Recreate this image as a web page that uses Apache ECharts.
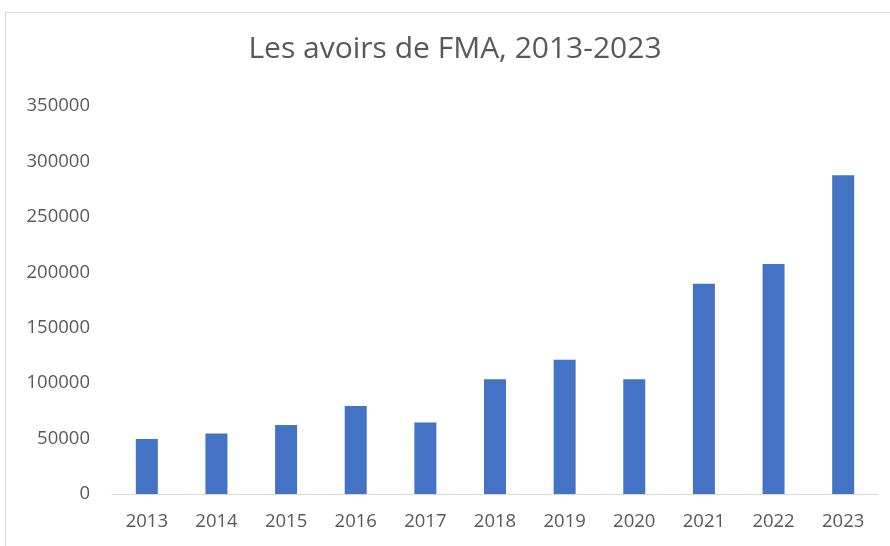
<!DOCTYPE html>
<html>
<head>
<meta charset="utf-8">
<script src="https://cdn.jsdelivr.net/npm/echarts@6/dist/echarts.min.js"></script>
<style>
  html, body { margin: 0; padding: 0; background: #fff; }
  #wrap { position: relative; width: 890px; height: 546px; }
  #main { width: 890px; height: 546px; }
  #frame { position: absolute; left: 5px; top: 12px; right: -2px; bottom: -2px;
           border: 1px solid #d9d9d9; pointer-events: none; }
</style>
</head>
<body>
<div id="wrap">
  <div id="main"></div>
  <div id="frame"></div>
</div>
<script>
// chart data
var years = ['2013', '2014', '2015', '2016', '2017', '2018', '2019', '2020', '2021', '2022', '2023'];
var avoirs = [49600, 54600, 62200, 79300, 64600, 103500, 121100, 103500, 189700, 207500, 287500];
var yMin = 0, yMax = 350000, yStep = 50000;

var txt = '#595959';
var myChart = echarts.init(document.getElementById('main'));

var option = {
    animation: false,
    title: {
        text: 'Les avoirs de FMA, 2013-2023',
        left: 450,
        top: 29,
        textAlign: 'center',
        textStyle: { fontFamily: 'Open Sans', fontWeight: 'normal', fontSize: 30, color: txt }
    },
    grid: { left: 112, right: 12, top: 106, bottom: 52 },
    xAxis: {
        type: 'category',
        data: years,
        axisLine: { lineStyle: { color: '#d9d9d9', width: 1 } },
        axisTick: { show: false },
        axisLabel: { color: txt, fontFamily: 'Open Sans', fontSize: 18.5, margin: 18 }
    },
    yAxis: {
        type: 'value',
        min: yMin,
        max: yMax,
        interval: yStep,
        splitLine: { show: false },
        axisLine: { show: false },
        axisTick: { show: false },
        axisLabel: {
            color: txt, fontFamily: 'Open Sans', fontSize: 18.5, margin: 22,
            formatter: function (v) { return String(v); }
        }
    },
    series: [{
        type: 'bar',
        data: avoirs,
        barWidth: 22,
        itemStyle: { color: '#4472C4' }
    }]
};

myChart.setOption(option);
</script>
</body>
</html>
